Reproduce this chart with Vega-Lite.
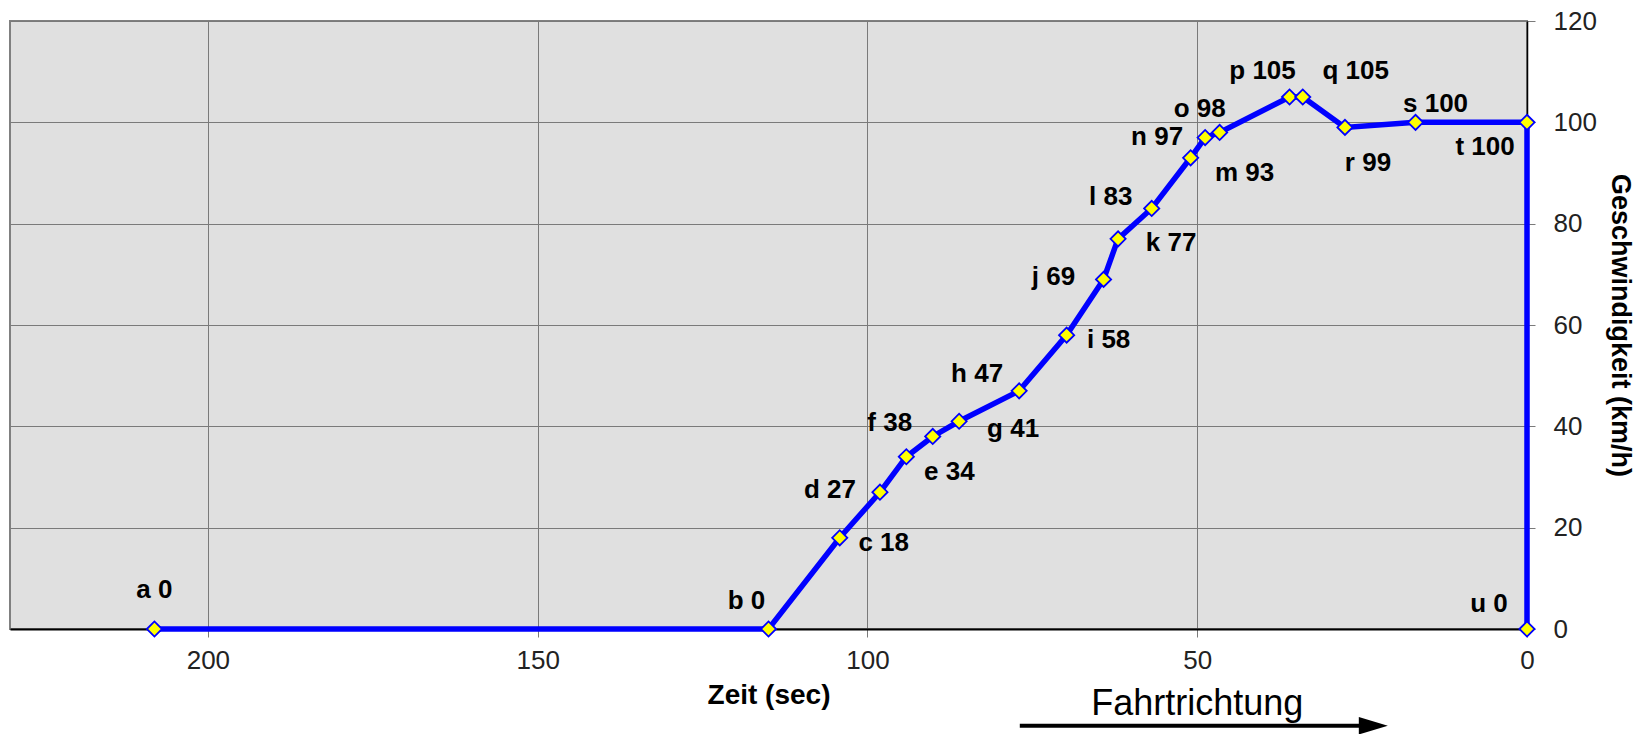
{
  "$schema": "https://vega.github.io/schema/vega-lite/v6.json",
  "width": 1517,
  "height": 608,
  "autosize": "none",
  "padding": {"left": 10, "top": 21, "right": 124, "bottom": 105},
  "background": "white",
  "config": {
    "view": {"fill": "#e0e0e0", "stroke": "#808080", "strokeWidth": 2},
    "text": {"font": "Liberation Sans", "fontSize": 26, "fontWeight": "bold", "align": "center", "baseline": "middle", "color": "#000"},
    "axis": {"labelFont": "Liberation Sans", "titleFont": "Liberation Sans", "labelColor": "#222", "titleColor": "#000", "gridColor": "#7a7a7a", "gridWidth": 1, "gridOpacity": 1, "tickColor": "#7a7a7a", "tickSize": 8, "domainColor": "#000", "labelFlush": false}
  },
  "data": {
    "values": [
      {"i": 1, "k": "a", "label": "a 0", "t": 208.1, "v": 0},
      {"i": 2, "k": "b", "label": "b 0", "t": 115.0, "v": 0},
      {"i": 3, "k": "c", "label": "c 18", "t": 104.2, "v": 18},
      {"i": 4, "k": "d", "label": "d 27", "t": 98.1, "v": 27},
      {"i": 5, "k": "e", "label": "e 34", "t": 94.1, "v": 34},
      {"i": 6, "k": "f", "label": "f 38", "t": 90.1, "v": 38},
      {"i": 7, "k": "g", "label": "g 41", "t": 86.1, "v": 41},
      {"i": 8, "k": "h", "label": "h 47", "t": 77.0, "v": 47},
      {"i": 9, "k": "i", "label": "i 58", "t": 69.8, "v": 58},
      {"i": 10, "k": "j", "label": "j 69", "t": 64.2, "v": 69},
      {"i": 11, "k": "k", "label": "k 77", "t": 62.0, "v": 77},
      {"i": 12, "k": "l", "label": "l 83", "t": 56.9, "v": 83},
      {"i": 13, "k": "m", "label": "m 93", "t": 51.0, "v": 93},
      {"i": 14, "k": "n", "label": "n 97", "t": 48.8, "v": 97},
      {"i": 15, "k": "o", "label": "o 98", "t": 46.6, "v": 98},
      {"i": 16, "k": "p", "label": "p 105", "t": 36.0, "v": 105},
      {"i": 17, "k": "q", "label": "q 105", "t": 34.0, "v": 105},
      {"i": 18, "k": "r", "label": "r 99", "t": 27.6, "v": 99},
      {"i": 19, "k": "s", "label": "s 100", "t": 16.9, "v": 100},
      {"i": 20, "k": "t", "label": "t 100", "t": 0, "v": 100},
      {"i": 21, "k": "u", "label": "u 0", "t": 0, "v": 0}
    ]
  },
  "encoding": {
    "x": {
      "field": "t", "type": "quantitative",
      "scale": {"domain": [0, 230], "reverse": true, "nice": false, "zero": false},
      "axis": {"orient": "bottom", "values": [0, 50, 100, 150, 200], "format": "d", "labelFontSize": 26, "labelPadding": 10, "domainWidth": 2, "grid": true, "title": "Zeit (sec)", "titleFontSize": 28, "titleFontWeight": "bold", "titlePadding": 8}
    },
    "y": {
      "field": "v", "type": "quantitative",
      "scale": {"domain": [0, 120], "nice": false},
      "axis": {"orient": "right", "values": [0, 20, 40, 60, 80, 100, 120], "labelFontSize": 26, "labelPadding": 18, "domainWidth": 1.5, "grid": true, "title": "Geschwindigkeit (km/h)", "titleFontSize": 27, "titleFontWeight": "bold", "titlePadding": 9}
    }
  },
  "layer": [
    {
      "mark": {"type": "line", "color": "#0000ff", "strokeWidth": 5.5},
      "encoding": {"order": {"field": "i", "type": "quantitative"}}
    },
    {
      "mark": {"type": "point", "shape": "diamond", "filled": true, "fill": "#ffff00", "stroke": "#0000ff", "strokeWidth": 1.8, "size": 230, "opacity": 1}
    },
    {
      "encoding": {"text": {"field": "label", "type": "nominal"}},
      "layer": [
        {"transform": [{"filter": "datum.k === 'a'"}], "mark": {"type": "text", "dx": 0, "dy": -39}},
        {"transform": [{"filter": "datum.k === 'b'"}], "mark": {"type": "text", "dx": -22, "dy": -28}},
        {"transform": [{"filter": "datum.k === 'c'"}], "mark": {"type": "text", "dx": 44, "dy": 5}},
        {"transform": [{"filter": "datum.k === 'd'"}], "mark": {"type": "text", "dx": -50, "dy": -2}},
        {"transform": [{"filter": "datum.k === 'e'"}], "mark": {"type": "text", "dx": 43, "dy": 15}},
        {"transform": [{"filter": "datum.k === 'f'"}], "mark": {"type": "text", "dx": -43, "dy": -13}},
        {"transform": [{"filter": "datum.k === 'g'"}], "mark": {"type": "text", "dx": 54, "dy": 8}},
        {"transform": [{"filter": "datum.k === 'h'"}], "mark": {"type": "text", "dx": -42, "dy": -17}},
        {"transform": [{"filter": "datum.k === 'i'"}], "mark": {"type": "text", "dx": 42, "dy": 5}},
        {"transform": [{"filter": "datum.k === 'j'"}], "mark": {"type": "text", "dx": -50, "dy": -2}},
        {"transform": [{"filter": "datum.k === 'k'"}], "mark": {"type": "text", "dx": 53, "dy": 4}},
        {"transform": [{"filter": "datum.k === 'l'"}], "mark": {"type": "text", "dx": -41, "dy": -11}},
        {"transform": [{"filter": "datum.k === 'm'"}], "mark": {"type": "text", "dx": 54, "dy": 15}},
        {"transform": [{"filter": "datum.k === 'n'"}], "mark": {"type": "text", "dx": -48, "dy": -1}},
        {"transform": [{"filter": "datum.k === 'o'"}], "mark": {"type": "text", "dx": -20, "dy": -23}},
        {"transform": [{"filter": "datum.k === 'p'"}], "mark": {"type": "text", "dx": -27, "dy": -26}},
        {"transform": [{"filter": "datum.k === 'q'"}], "mark": {"type": "text", "dx": 53, "dy": -26}},
        {"transform": [{"filter": "datum.k === 'r'"}], "mark": {"type": "text", "dx": 23, "dy": 36}},
        {"transform": [{"filter": "datum.k === 's'"}], "mark": {"type": "text", "dx": 20, "dy": -18}},
        {"transform": [{"filter": "datum.k === 't'"}], "mark": {"type": "text", "dx": -42, "dy": 25}},
        {"transform": [{"filter": "datum.k === 'u'"}], "mark": {"type": "text", "dx": -38, "dy": -25}}
      ]
    },
    {
      "data": {"values": [{"note": "Fahrtrichtung", "from": 76.9, "to": 25.0, "head": 23.3, "level": -19.1, "textlevel": -14.8, "mid": 50}]},
      "layer": [
        {
          "mark": {"type": "rule", "color": "#000", "strokeWidth": 4},
          "encoding": {
            "x": {"field": "from", "type": "quantitative"},
            "x2": {"field": "to"},
            "y": {"field": "level", "type": "quantitative"}
          }
        },
        {
          "mark": {"type": "point", "shape": "M-1,-0.6L1,0L-1,0.6Z", "filled": true, "fill": "#000", "strokeWidth": 0, "size": 841, "opacity": 1},
          "encoding": {
            "x": {"field": "head", "type": "quantitative"},
            "y": {"field": "level", "type": "quantitative"}
          }
        },
        {
          "mark": {"type": "text", "fontSize": 36, "fontWeight": "normal", "color": "#000"},
          "encoding": {
            "x": {"field": "mid", "type": "quantitative"},
            "y": {"field": "textlevel", "type": "quantitative"},
            "text": {"field": "note", "type": "nominal"}
          }
        }
      ]
    }
  ]
}
